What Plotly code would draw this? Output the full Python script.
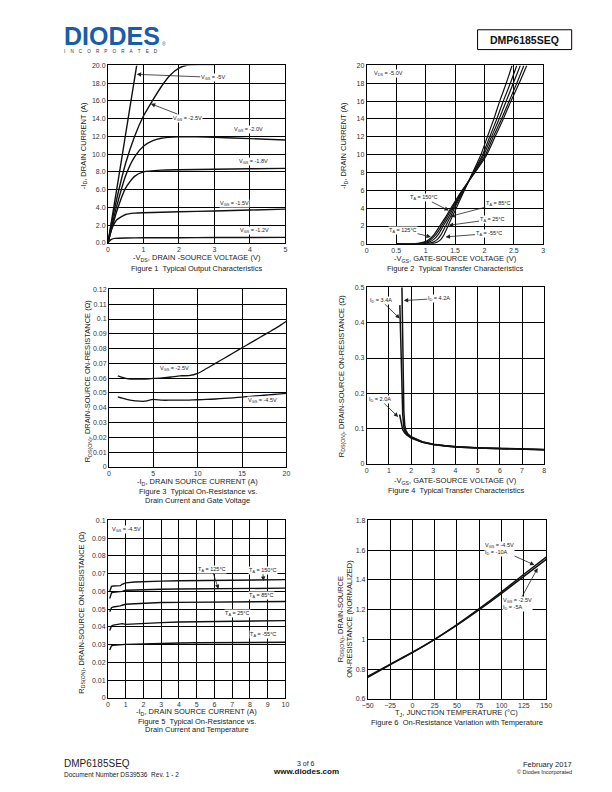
import plotly.graph_objects as go

PAGE_W, PAGE_H = 612, 792
FONT = "Liberation Sans, Arial, Helvetica, sans-serif"
NB = "\u00a0"

# ---------------- data ----------------
# Figure 1: typical output characteristics (-VDS [V], -ID [A])
f1_vds_5v = [0, 0.2, 0.4, 0.6, 0.81]
f1_id_5v = [0, 4.9, 9.8, 14.8, 20.0]
f1_vds_25v = [0, 0.1, 0.25, 0.5, 0.75, 1.0, 1.25, 1.5, 1.75, 2.0, 2.25, 2.6, 3.0]
f1_id_25v = [0, 2.2, 5.0, 9.0, 12.0, 14.3, 16.0, 17.6, 18.9, 19.7, 20.05, 20.1, 20.1]
f1_vds_20v = [0, 0.1, 0.25, 0.5, 0.75, 1.0, 1.25, 1.5, 2.0, 2.5, 3, 4, 5]
f1_id_20v = [0, 1.8, 4.2, 7.6, 9.7, 10.9, 11.5, 11.8, 11.95, 11.95, 11.9, 11.75, 11.6]
f1_vds_18v = [0, 0.1, 0.25, 0.5, 0.75, 1.0, 1.5, 2, 3, 4, 5]
f1_id_18v = [0, 1.5, 3.6, 6.2, 7.5, 8.0, 8.2, 8.25, 8.3, 8.35, 8.4]
f1_vds_15v = [0, 0.05, 0.1, 0.25, 0.5, 0.75, 1, 1.5, 2, 3, 4, 5]
f1_id_15v = [0, 0.8, 1.5, 2.6, 3.2, 3.35, 3.4, 3.45, 3.5, 3.6, 3.7, 3.8]
f1_vds_12v = [0, 0.05, 0.1, 0.2, 0.5, 1, 2, 3, 4, 5]
f1_id_12v = [0, 0.25, 0.4, 0.5, 0.55, 0.57, 0.58, 0.6, 0.6, 0.62]

# Figure 2: typical transfer characteristics (-VGS [V] for each -ID level)
f2_id = [0, 0, 0.2, 0.5, 1, 2, 3, 4, 6, 8, 10, 12, 14, 16, 18, 20]
f2_vgs_m55 = [0.5, 1.10, 1.20, 1.26, 1.31, 1.38, 1.45, 1.52, 1.66, 1.80, 1.94, 2.05, 2.16, 2.26, 2.37, 2.47]
f2_vgs_25 = [0.5, 1.00, 1.13, 1.20, 1.26, 1.34, 1.42, 1.49, 1.65, 1.81, 1.97, 2.09, 2.21, 2.32, 2.44, 2.55]
f2_vgs_85 = [0.5, 0.92, 1.06, 1.14, 1.21, 1.30, 1.39, 1.47, 1.64, 1.82, 1.99, 2.12, 2.25, 2.37, 2.49, 2.61]
f2_vgs_125 = [0.5, 0.85, 1.01, 1.09, 1.17, 1.27, 1.36, 1.45, 1.63, 1.83, 2.02, 2.15, 2.29, 2.42, 2.55, 2.67]
f2_vgs_150 = [0.5, 0.80, 0.97, 1.06, 1.14, 1.24, 1.34, 1.43, 1.62, 1.84, 2.04, 2.18, 2.32, 2.45, 2.59, 2.72]

# Figure 3: RDS(on) vs drain current and gate voltage
f3_id = [1, 1.5, 2, 3, 4, 5, 6, 7, 8, 9, 10, 11, 12, 13, 14, 15, 16, 17, 18, 19, 20]
f3_r_25v = [0.0615, 0.0605, 0.0597, 0.0593, 0.0594, 0.0598, 0.0602, 0.0608, 0.0616, 0.0617, 0.0632,
            0.0665, 0.0700, 0.0735, 0.0770, 0.0806, 0.0840, 0.0875, 0.0910, 0.0945, 0.0985]
f3_r_45v = [0.0474, 0.0465, 0.0457, 0.0447, 0.0444, 0.0457, 0.0451, 0.0451, 0.0451, 0.0452, 0.0454,
            0.0456, 0.0459, 0.0463, 0.0467, 0.0472, 0.0477, 0.0482, 0.0487, 0.0492, 0.0497]

# Figure 4: RDS(on) vs gate-source voltage
f4_vgs_20a = [1.48, 1.52, 1.56, 1.62, 1.7, 1.8, 2.0, 2.5, 3, 3.5, 4, 5, 6, 7, 8]
f4_r_20a = [0.140, 0.125, 0.110, 0.097, 0.089, 0.082, 0.073, 0.061, 0.055, 0.051, 0.048, 0.045, 0.043, 0.041, 0.040]
f4_vgs_34a = [1.49, 1.51, 1.54, 1.58, 1.62, 1.67, 1.72, 1.8, 2.0, 2.5, 3, 3.5, 4, 5, 6, 7, 8]
f4_r_34a = [0.45, 0.40, 0.30, 0.20, 0.14, 0.105, 0.093, 0.084, 0.075, 0.062, 0.055, 0.051, 0.048, 0.045, 0.043, 0.041, 0.040]
f4_vgs_42a = [1.58, 1.60, 1.62, 1.64, 1.67, 1.71, 1.76, 1.85, 2.0, 2.5, 3, 3.5, 4, 5, 6, 7, 8]
f4_r_42a = [0.52, 0.42, 0.32, 0.22, 0.15, 0.11, 0.095, 0.085, 0.077, 0.063, 0.056, 0.052, 0.049, 0.046, 0.044, 0.042, 0.041]

# Figure 5: RDS(on) vs drain current and temperature
f5_id = [0.1, 0.15, 0.2, 0.3, 0.5, 0.7, 0.8, 1.0, 1.5, 2, 3, 4, 5, 6, 7, 8, 9, 10]
f5_r_150 = [0.0600, 0.0620, 0.0628, 0.0630, 0.0630, 0.0632, 0.0640, 0.0648, 0.0653, 0.0656, 0.0658, 0.0660,
            0.0661, 0.0662, 0.0663, 0.0664, 0.0665, 0.0666]
f5_r_125 = [0.0560, 0.0580, 0.0592, 0.0595, 0.0596, 0.0597, 0.0600, 0.0606, 0.0608, 0.0610, 0.0612, 0.0613,
            0.0614, 0.0615, 0.0616, 0.0616, 0.0617, 0.0618]
f5_r_85 = [0.0485, 0.0500, 0.0508, 0.0512, 0.0514, 0.0518, 0.0522, 0.0527, 0.0530, 0.0533, 0.0537, 0.0538,
           0.0539, 0.0540, 0.0541, 0.0542, 0.0542, 0.0543]
f5_r_25 = [0.0380, 0.0398, 0.0405, 0.0410, 0.0414, 0.0420, 0.0418, 0.0414, 0.0417, 0.0420, 0.0424, 0.0427,
           0.0429, 0.0431, 0.0432, 0.0433, 0.0434, 0.0435]
f5_r_m55 = [0.0270, 0.0285, 0.0293, 0.0296, 0.0298, 0.0299, 0.0300, 0.0301, 0.0302, 0.0304, 0.0307, 0.0309,
            0.0310, 0.0311, 0.0312, 0.0312, 0.0313, 0.0313]

# Figure 6: normalized RDS(on) vs junction temperature
f6_tj = [-50, -25, 0, 25, 50, 75, 100, 125, 150]
f6_r_45v = [0.745, 0.829, 0.911, 1.0, 1.099, 1.206, 1.319, 1.438, 1.553]
f6_r_25v = [0.750, 0.832, 0.913, 1.0, 1.095, 1.199, 1.309, 1.424, 1.538]


# ---------------- helpers ----------------
def px(xp):
    return xp / PAGE_W


def py(yp):
    return 1 - yp / PAGE_H


panels = {
    1: dict(box=(104, 285, 62, 241), xr=[0, 5], yr=[0, 20], dx=1, dy=2, yfmt=".1f"),
    2: dict(box=(368, 548, 62, 242), xr=[0, 3], yr=[0, 20], dx=0.5, dy=2, yfmt=""),
    3: dict(box=(105, 286, 288, 467), xr=[0, 20], yr=[0, 0.12], dx=5, dy=0.01, yfmt=""),
    4: dict(box=(368, 549, 286, 464), xr=[0, 8], yr=[0, 0.5], dx=1, dy=0.1, yfmt=""),
    5: dict(box=(104, 285, 521, 700), xr=[0, 10], yr=[0, 0.1], dx=1, dy=0.01, yfmt=""),
    6: dict(box=(369, 551, 521, 701), xr=[-50, 150], yr=[0.6, 1.8], dx=25, dy=0.2, yfmt=""),
}

fig = go.Figure()
layout = dict(
    width=PAGE_W, height=PAGE_H, margin=dict(l=0, r=0, t=0, b=0),
    paper_bgcolor="white", plot_bgcolor="white", showlegend=False,
    font=dict(family=FONT, color="#222"),
)

for n, p in panels.items():
    x0, x1, y0, y1 = p["box"]
    s = "" if n == 1 else str(n)
    common = dict(showline=True, linecolor="black", linewidth=1, mirror=True,
                  showgrid=True, gridcolor="black", gridwidth=1, zeroline=False,
                  ticks="", tickfont=dict(size=7, color="#333", family=FONT), fixedrange=True)
    layout["xaxis" + s] = dict(domain=[px(x0), px(x1)], range=p["xr"], tick0=p["xr"][0],
                               dtick=p["dx"], anchor="y" + s, **common)
    yax = dict(domain=[py(y1), py(y0)], range=p["yr"], tick0=p["yr"][0],
               dtick=p["dy"], anchor="x" + s, **common)
    if p["yfmt"]:
        yax["tickformat"] = p["yfmt"]
    layout["yaxis" + s] = yax

fig.update_layout(**layout)


def add_line(n, x, y, width=1.4, shape="spline"):
    s = "" if n == 1 else str(n)
    line = dict(color="#111", width=width, shape=shape)
    if shape == "spline":
        line["smoothing"] = 0.6
    fig.add_trace(go.Scatter(x=x, y=y, mode="lines", line=line,
                             xaxis="x" + s, yaxis="y" + s, hoverinfo="skip"))


# Figure 1
add_line(1, f1_vds_5v, f1_id_5v)
add_line(1, f1_vds_25v, f1_id_25v)
add_line(1, f1_vds_20v, f1_id_20v)
add_line(1, f1_vds_18v, f1_id_18v)
add_line(1, f1_vds_15v, f1_id_15v)
add_line(1, f1_vds_12v, f1_id_12v)
# Figure 2
for xs in (f2_vgs_m55, f2_vgs_25, f2_vgs_85, f2_vgs_125, f2_vgs_150):
    add_line(2, xs, f2_id, width=1.2)
# Figure 3
add_line(3, f3_id, f3_r_25v, width=1.3)
add_line(3, f3_id, f3_r_45v, width=1.3)
# Figure 4
add_line(4, f4_vgs_20a, f4_r_20a, width=1.5, shape="linear")
add_line(4, f4_vgs_34a, f4_r_34a, width=1.5, shape="linear")
add_line(4, f4_vgs_42a, f4_r_42a, width=1.5, shape="linear")
# Figure 5
for ys in (f5_r_150, f5_r_125, f5_r_85, f5_r_25, f5_r_m55):
    add_line(5, f5_id, ys, width=1.4, shape="linear")
# Figure 6
add_line(6, f6_tj, f6_r_45v, width=1.5)
add_line(6, f6_tj, f6_r_25v, width=1.5)

annotations = []


def txt(xp, yp, text, size=7.5, angle=0, xanchor="center", bold=False, color="#222", align="center"):
    if bold:
        text = "<b>" + text + "</b>"
    annotations.append(dict(x=px(xp), y=py(yp), xref="paper", yref="paper", text=text,
                            showarrow=False, textangle=angle, xanchor=xanchor, yanchor="middle",
                            align=align, font=dict(size=size, color=color, family=FONT)))


def note(n, x, y, text, ax=None, ay=None, size=5.5, align="center", bg="white"):
    s = "" if n == 1 else str(n)
    a = dict(x=x, y=y, xref="x" + s, yref="y" + s, text=text, align=align,
             font=dict(size=size, color="#222", family=FONT), bgcolor=bg, borderpad=0)
    if ax is None:
        a["showarrow"] = False
    else:
        a.update(showarrow=True, ax=ax, ay=ay, arrowhead=2, arrowsize=1.1,
                 arrowwidth=0.8, arrowcolor="#222", standoff=0)
    annotations.append(a)


# axis titles and captions
txt(79, 143, "-I<sub>D</sub>, DRAIN CURRENT (A)", angle=-90)
txt(194.5, 256.7, "-V<sub>DS</sub>, DRAIN -SOURCE VOLTAGE (V)")
txt(194.5, 266.5, "Figure 1" + NB + " Typical Output Characteristics")

txt(345, 143, "-I<sub>D</sub>, DRAIN CURRENT (A)", angle=-90)
txt(458, 257.3, "-V<sub>GS</sub>, GATE-SOURCE VOLTAGE (V)")
txt(458, 266.8, "Figure 2" + NB + " Typical Transfer Characteristics")

txt(83.3, 380, "R<sub>DS(ON)</sub>, DRAIN-SOURCE ON-RESISTANCE (Ω)", angle=-90)
txt(195.5, 482.3, "-I<sub>D</sub>, DRAIN SOURCE CURRENT (A)")
txt(195.5, 492.3, "Figure 3" + NB + " Typical On-Resistance vs.")
txt(195.5, 500.9, "Drain Current and Gate Voltage")

txt(342.3, 375, "R<sub>DS(ON)</sub>, DRAIN-SOURCE ON-RESISTANCE (Ω)", angle=-90)
txt(458.5, 481, "-V<sub>GS</sub>, GATE-SOURCE VOLTAGE (V)")
txt(458.5, 490.7, "Figure 4" + NB + " Typical Transfer Characteristics")

txt(76.7, 614, "R<sub>DS(ON)</sub>, DRAIN-SOURCE ON-RESISTANCE (Ω)", angle=-90)
txt(194.5, 714.2, "-I<sub>D</sub>, DRAIN SOURCE CURRENT (A)")
txt(194.5, 723.6, "Figure 5" + NB + " Typical On-Resistance vs.")
txt(194.5, 732.4, "Drain Current and Temperature")

txt(346, 620, "R<sub>DS(ON)</sub>, DRAIN-SOURCE<br>ON-RESISTANCE (NORMALIZED)", angle=-90)
txt(460, 715.4, "T<sub>J</sub>, JUNCTION TEMPERATURE (°C)")
txt(460, 724.6, "Figure 6" + NB + " On-Resistance Variation with Temperature")

# Figure 1 labels
note(1, 0.81, 19.0, "V<sub>GS</sub> = -5V", ax=76, ay=3)
note(1, 1.207, 15.68, "V<sub>GS</sub> = -2.5V", ax=37, ay=14.3)
note(1, 3.96, 12.77, "V<sub>GS</sub> = -2.0V")
note(1, 4.11, 9.2, "V<sub>GS</sub> = -1.8V")
note(1, 3.57, 4.39, "V<sub>GS</sub> = -1.5V")
note(1, 4.12, 1.34, "V<sub>GS</sub> = -1.2V")

# Figure 2 labels
note(2, 0.363, 19.1, "V<sub>DS</sub> = -5.0V")
note(2, 1.395, 3.74, "T<sub>A</sub> = 150°C", ax=-25, ay=-12.6)
note(2, 1.42, 3.08, "T<sub>A</sub> = 85°C", ax=48, ay=-12.6)
note(2, 1.395, 2.08, "T<sub>A</sub> = 25°C", ax=43.3, ay=-6)
note(2, 1.34, 0.78, "T<sub>A</sub> = -55°C", ax=43, ay=-3.3)
note(2, 1.09, 0.78, "T<sub>A</sub> = 125°C", ax=-27.8, ay=-6.7)

# Figure 3 labels
note(3, 7.37, 0.0662, "V<sub>GS</sub> = -2.5V")
note(3, 17.3, 0.0449, "V<sub>GS</sub> = -4.5V")

# Figure 4 labels
note(4, 1.49, 0.412, "I<sub>D</sub> = 3.4A", ax=-19.2, ay=-18.3)
note(4, 1.668, 0.463, "I<sub>D</sub> = 4.2A", ax=35, ay=-2)
note(4, 1.416, 0.133, "I<sub>D</sub> = 2.0A", ax=-18, ay=-17.4)

# Figure 5 labels
note(5, 1.02, 0.0951, "V<sub>GS</sub> = -4.5V")
note(5, 6.23, 0.0613, "T<sub>A</sub> = 125°C", ax=-6.7, ay=-20)
note(5, 8.77, 0.0659, "T<sub>A</sub> = 150°C", ax=-1, ay=-10.7)
note(5, 8.68, 0.0575, "T<sub>A</sub> = 85°C")
note(5, 7.32, 0.0473, "T<sub>A</sub> = 25°C")
note(5, 8.73, 0.0358, "T<sub>A</sub> = -55°C")

# Figure 6 labels
note(6, 136.8, 1.5, "V<sub>GS</sub> = -4.5V<br>I<sub>D</sub> = -10A", ax=-34.8, ay=-15.7, align="left")
note(6, 140.4, 1.479, "V<sub>GS</sub> = -2.5V<br>I<sub>D</sub> = -5A", ax=-19.8, ay=36.2, align="left")

# header
txt(57, 32, "<b>DIODES</b>", size=25, xanchor="left", color="#1b5ca8")
txt(157.5, 40, "®", size=5, xanchor="left", color="#1b5ca8")
txt(57, 47.5, (NB * 4).join("INCORPORATED"), size=4.6, xanchor="left", color="#333")
txt(529, 36.3, "DMP6185SEQ", size=10.5, bold=True, color="#111")

# footer
txt(57, 766.5, "DMP6185SEQ", size=10, xanchor="left", color="#222")
txt(57, 777.3, "Document Number DS39536" + NB + " Rev. 1 - 2", size=6.5, xanchor="left", color="#222")
txt(306, 766.2, "3 of 6", size=7, color="#222")
txt(306, 774.5, "www.diodes.com", size=8, bold=True, color="#111")
txt(579, 767, "February 2017", size=7.5, xanchor="right", color="#222")
txt(579, 774.5, "© Diodes Incorporated", size=5.5, xanchor="right", color="#222")

fig.update_layout(annotations=annotations,
                  shapes=[dict(type="rect", xref="paper", yref="paper",
                               x0=px(481), x1=px(577), y0=py(46), y1=py(26),
                               line=dict(color="black", width=1))])

fig.write_html("out.html")
